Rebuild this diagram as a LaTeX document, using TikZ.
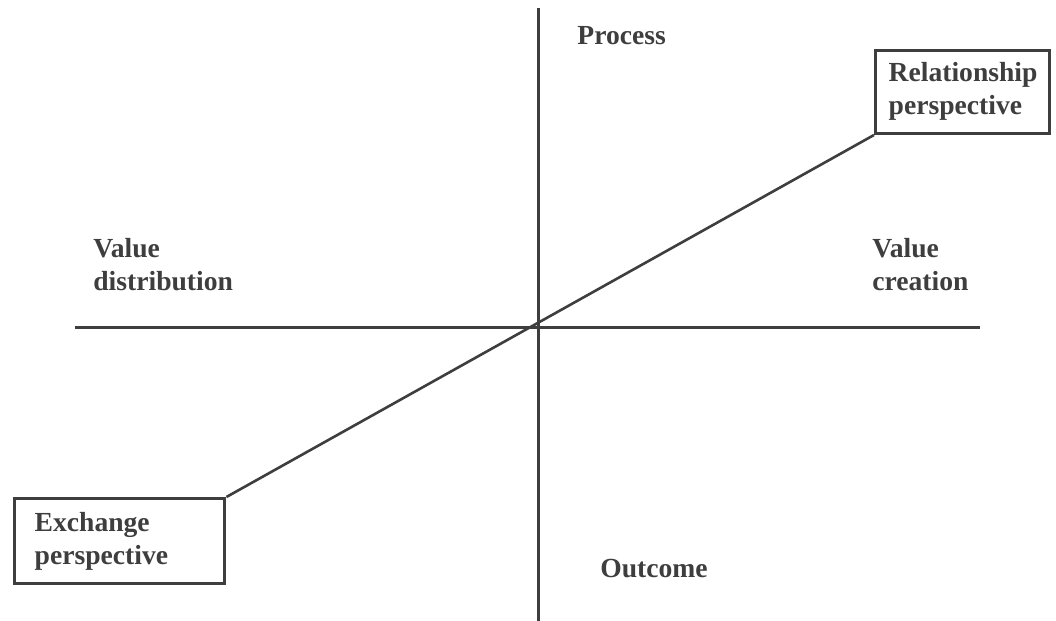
\documentclass[tikz,border=0pt]{standalone}
\usepackage{fontspec}
\setmainfont{Liberation Serif}
\usetikzlibrary{positioning}
\definecolor{ink}{RGB}{62,62,62}

\begin{document}
\begin{tikzpicture}[x=0.5pt, y=-0.5pt,
  ax/.style={draw=ink, line width=1.5pt},
  ln/.style={draw=ink, line width=1.3pt},
  persp/.style={draw=ink, line width=1.7pt, align=left, text=ink,
                font=\fontsize{13.8}{16.5}\selectfont\bfseries, inner xsep=8pt},
  lbl/.style={align=left, text=ink, inner sep=0pt,
              font=\fontsize{13.8}{16.5}\selectfont\bfseries}]
\useasboundingbox (0,0) rectangle (1056,621);
\coordinate (top) at (538,8);
\coordinate (bot) at (538,621);
\coordinate (lft) at (75,327);
\coordinate (rgt) at (980,327);
\draw[ax] (top) -- (bot);
\draw[ax] (lft) -- (rgt);
\node[persp, text width=74pt, inner xsep=6.5pt, minimum height=41.5pt, anchor=south west] (rel) at (874,135) {Relationship\\perspective};
\node[persp, text width=85pt, inner xsep=10pt, minimum height=42.5pt, anchor=north west] (exc) at (13,497) {Exchange\\perspective};
\draw[ln] (exc.north east) -- (rel.south west);
\node[lbl, anchor=base west] (proc) at (577,45) {Process};
\node[lbl, anchor=base west] (outc) at (600,577) {Outcome};
\node[lbl, anchor=base west] (vdist) at (93,290) {Value\\distribution};
\node[lbl, anchor=base west] (vcre) at (872,290) {Value\\creation};
\end{tikzpicture}
\end{document}
